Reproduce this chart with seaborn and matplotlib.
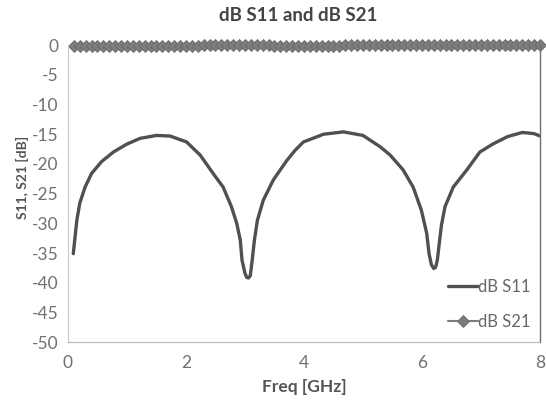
import numpy as np
import pandas as pd
import matplotlib
matplotlib.use("Agg")
import matplotlib.pyplot as plt
import seaborn as sns

# Return loss (S11) trace
s11_freq = [0.09, 0.12, 0.15, 0.20, 0.29, 0.40, 0.57, 0.77, 0.99, 1.22, 1.50,
            1.73, 2.01, 2.24, 2.46, 2.63, 2.77, 2.86, 2.92, 2.95, 3.00, 3.03,
            3.06, 3.09, 3.12, 3.16, 3.21, 3.31, 3.48, 3.71, 3.85, 3.99, 4.33,
            4.67, 5.00, 5.29, 5.46, 5.68, 5.85, 5.99, 6.08, 6.12, 6.16, 6.20,
            6.23, 6.26, 6.29, 6.33, 6.39, 6.53, 6.76, 6.98, 7.21, 7.45, 7.70,
            7.90, 8.00]
s11_db = [-35.1, -32.3, -29.5, -26.6, -23.9, -21.6, -19.6, -18.0, -16.7, -15.7,
          -15.2, -15.3, -16.3, -18.5, -21.6, -23.9, -27.2, -30.0, -32.8, -36.2,
          -38.4, -39.1, -39.2, -38.8, -36.4, -32.8, -29.5, -26.1, -22.7, -19.4,
          -17.7, -16.3, -15.0, -14.6, -15.2, -17.1, -18.5, -21.0, -23.9, -27.8,
          -31.7, -35.1, -37.0, -37.6, -37.4, -36.2, -33.6, -30.3, -27.2, -23.9,
          -21.0, -18.0, -16.6, -15.4, -14.7, -14.9, -15.3]

# Insertion loss (S21) trace, 0.1 GHz sweep
s21_freq = [round(0.1 * k, 1) for k in range(1, 81)]
s21_db = [-0.1, -0.1, -0.1, -0.1, -0.1, -0.1, -0.1, -0.1, -0.1, -0.1,
          -0.2, -0.2, -0.2, -0.2, -0.2, -0.2, -0.2, -0.2, -0.2, -0.1,
          -0.1, -0.1, 0.0, 0.0, 0.0, 0.0, 0.0, 0.0, 0.0, 0.0,
          0.0, 0.0, 0.0, 0.0, -0.1, -0.1, -0.1, -0.1, -0.1, -0.1,
          -0.1, -0.1, -0.1, -0.1, -0.1, -0.1, 0.0, 0.0, 0.0, 0.0,
          0.0, 0.0, 0.0, 0.0, 0.0, 0.1, 0.1, 0.1, 0.1, 0.1,
          0.1, 0.1, 0.1, 0.1, 0.1, 0.1, 0.1, 0.1, 0.1, 0.1,
          0.1, 0.0, 0.0, 0.0, 0.0, 0.0, 0.0, 0.0, 0.0, 0.0]

x_ticks = [0, 2, 4, 6, 8]
y_ticks = [0, -5, -10, -15, -20, -25, -30, -35, -40, -45, -50]

sns.set_theme(style="white")
plt.rcParams["font.family"] = ["Lato", "DejaVu Sans"]

fig = plt.figure(figsize=(5.46, 4.03), dpi=100)
ax = fig.add_axes([0.1245, 0.151, 0.8645, 0.737])

df11 = pd.DataFrame({"freq": s11_freq, "db": s11_db})
df21 = pd.DataFrame({"freq": s21_freq, "db": s21_db})

sns.lineplot(data=df11, x="freq", y="db", ax=ax, color="#505050",
             linewidth=2.4, label="dB S11", sort=True)
sns.lineplot(data=df21, x="freq", y="db", ax=ax, color="#7c7c7c",
             linewidth=1.5, marker="D", markersize=6.5, markeredgewidth=0.6,
             markeredgecolor="#6a6a6a", label="dB S21", clip_on=False)

ax.set_xlim(0, 8)
ax.set_ylim(-50, 0)
ax.set_xticks(x_ticks)
ax.set_yticks(y_ticks)
ax.set_yticklabels([str(v) for v in y_ticks])
ax.tick_params(axis="both", which="both", direction="in", length=4,
               width=0.8, color="#c0c0c0", labelsize=12.5, labelcolor="#707070")
ax.tick_params(axis="x", pad=9)
ax.tick_params(axis="y", pad=7)

ax.spines["top"].set_visible(False)
ax.spines["left"].set_color("#c8c8c8")
ax.spines["left"].set_linewidth(0.8)
ax.spines["bottom"].set_color("#bbbbbb")
ax.spines["bottom"].set_linewidth(0.9)
ax.spines["bottom"].set_linestyle((0, (1, 1)))
ax.spines["right"].set_color("#707070")
ax.spines["right"].set_linewidth(1.0)

fig.text(0.546, 0.962, "dB S11 and dB S21", fontsize=13.5, fontweight="bold",
         color="#444444", ha="center", va="center")
ax.set_xlabel("Freq [GHz]", fontsize=12.5, fontweight="bold",
              color="#555555", labelpad=6)
ax.set_ylabel("S11, S21 [dB]", fontsize=10, fontweight="bold",
              color="#555555", labelpad=8)
ax.yaxis.set_label_coords(-0.082, 0.554)

leg = ax.legend(loc="lower right", frameon=False, fontsize=12,
                handlelength=1.75, handletextpad=0.05, labelspacing=1.1,
                borderaxespad=0.0, bbox_to_anchor=(0.995, 0.02))
for t in leg.get_texts():
    t.set_color("#666666")

fig.savefig("out.png", dpi=100, facecolor="white")
